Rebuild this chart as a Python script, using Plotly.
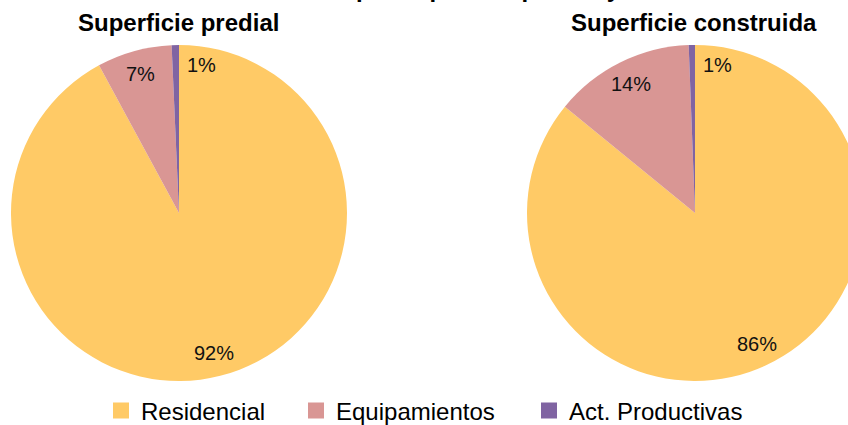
import math
import plotly.graph_objects as go

categories = ["Residencial", "Equipamientos", "Act. Productivas"]
predial_values = [92.1, 7.2, 0.7]
construida_values = [85.9, 13.5, 0.6]
colors = ["#FFCA66", "#D99694", "#8064A2"]
titles = ["Superficie predial", "Superficie construida"]
main_title = "Distribución de usos de suelo por superficie predial y construida en la comuna"

W, H = 870, 425
FONT = "Liberation Sans, Arial, sans-serif"
R = 168
centers = [(179, 213), (695, 213)]

def dom(cx, cy, r):
    return dict(x=[(cx - r) / W, (cx + r) / W], y=[1 - (cy + r) / H, 1 - (cy - r) / H])

fig = go.Figure()
for (cx, cy), vals in zip(centers, [predial_values, construida_values]):
    fig.add_trace(go.Pie(
        labels=categories, values=vals, sort=False, direction="clockwise", rotation=0,
        marker=dict(colors=colors, line=dict(width=0)),
        textinfo="none", hoverinfo="label+percent",
        domain=dom(cx, cy, R), showlegend=False,
    ))
    # data labels placed at each slice's mid-angle (Excel-style best fit)
    total = sum(vals)
    start = 0.0
    for v in vals:
        share = v / total
        span = share * 360
        if share < 0.02:
            ang, rf = start + span + 8.5, 0.89
        else:
            ang, rf = start + span / 2, 0.86
        start += span
        x = cx + rf * R * math.sin(math.radians(ang))
        y = cy - rf * R * math.cos(math.radians(ang))
        fig.add_annotation(x=x / W, y=1 - y / H, xref="paper", yref="paper",
                           text=f"{round(share * 100)}%", showarrow=False,
                           font=dict(size=20, color="#111111", family=FONT),
                           xanchor="center", yanchor="middle")

for (cx, _), t in zip(centers, titles):
    fig.add_annotation(x=(cx - 1) / W, y=1 - 23 / H, xref="paper", yref="paper", text="<b>" + t + "</b>",
                       showarrow=False, font=dict(size=24, color="black", family=FONT),
                       xanchor="center", yanchor="middle")

# clipped main title at the very top
fig.add_annotation(x=6 / W, y=1 - 4 / H, xref="paper", yref="paper", text="<b>" + main_title + "</b>",
                   showarrow=False, font=dict(size=24, color="black", family=FONT),
                   xanchor="left", yanchor="bottom")

# legend entries (one legend per category to match the spacing)
legend_x = [101, 296, 529]
for i, (cat, col) in enumerate(zip(categories, colors)):
    lname = "legend" if i == 0 else f"legend{i + 1}"
    fig.add_trace(go.Scatter(
        x=[None], y=[None], mode="markers", name=cat,
        marker=dict(symbol="square", size=16, color=col),
        showlegend=True, legend=lname,
    ))
    fig.update_layout({lname: dict(orientation="h", x=legend_x[i] / W, xanchor="left",
                                   y=1 - 411 / H, yanchor="middle", bgcolor="rgba(0,0,0,0)",
                                   font=dict(size=24, color="black", family=FONT))})

fig.update_layout(
    width=W, height=H, margin=dict(l=0, r=0, t=0, b=0, autoexpand=False),
    paper_bgcolor="white", plot_bgcolor="white",
    xaxis=dict(visible=False), yaxis=dict(visible=False),
)

fig.write_html("out.html", config={"displayModeBar": False},
               post_script="document.body.style.margin='0';document.body.style.overflow='hidden';")
